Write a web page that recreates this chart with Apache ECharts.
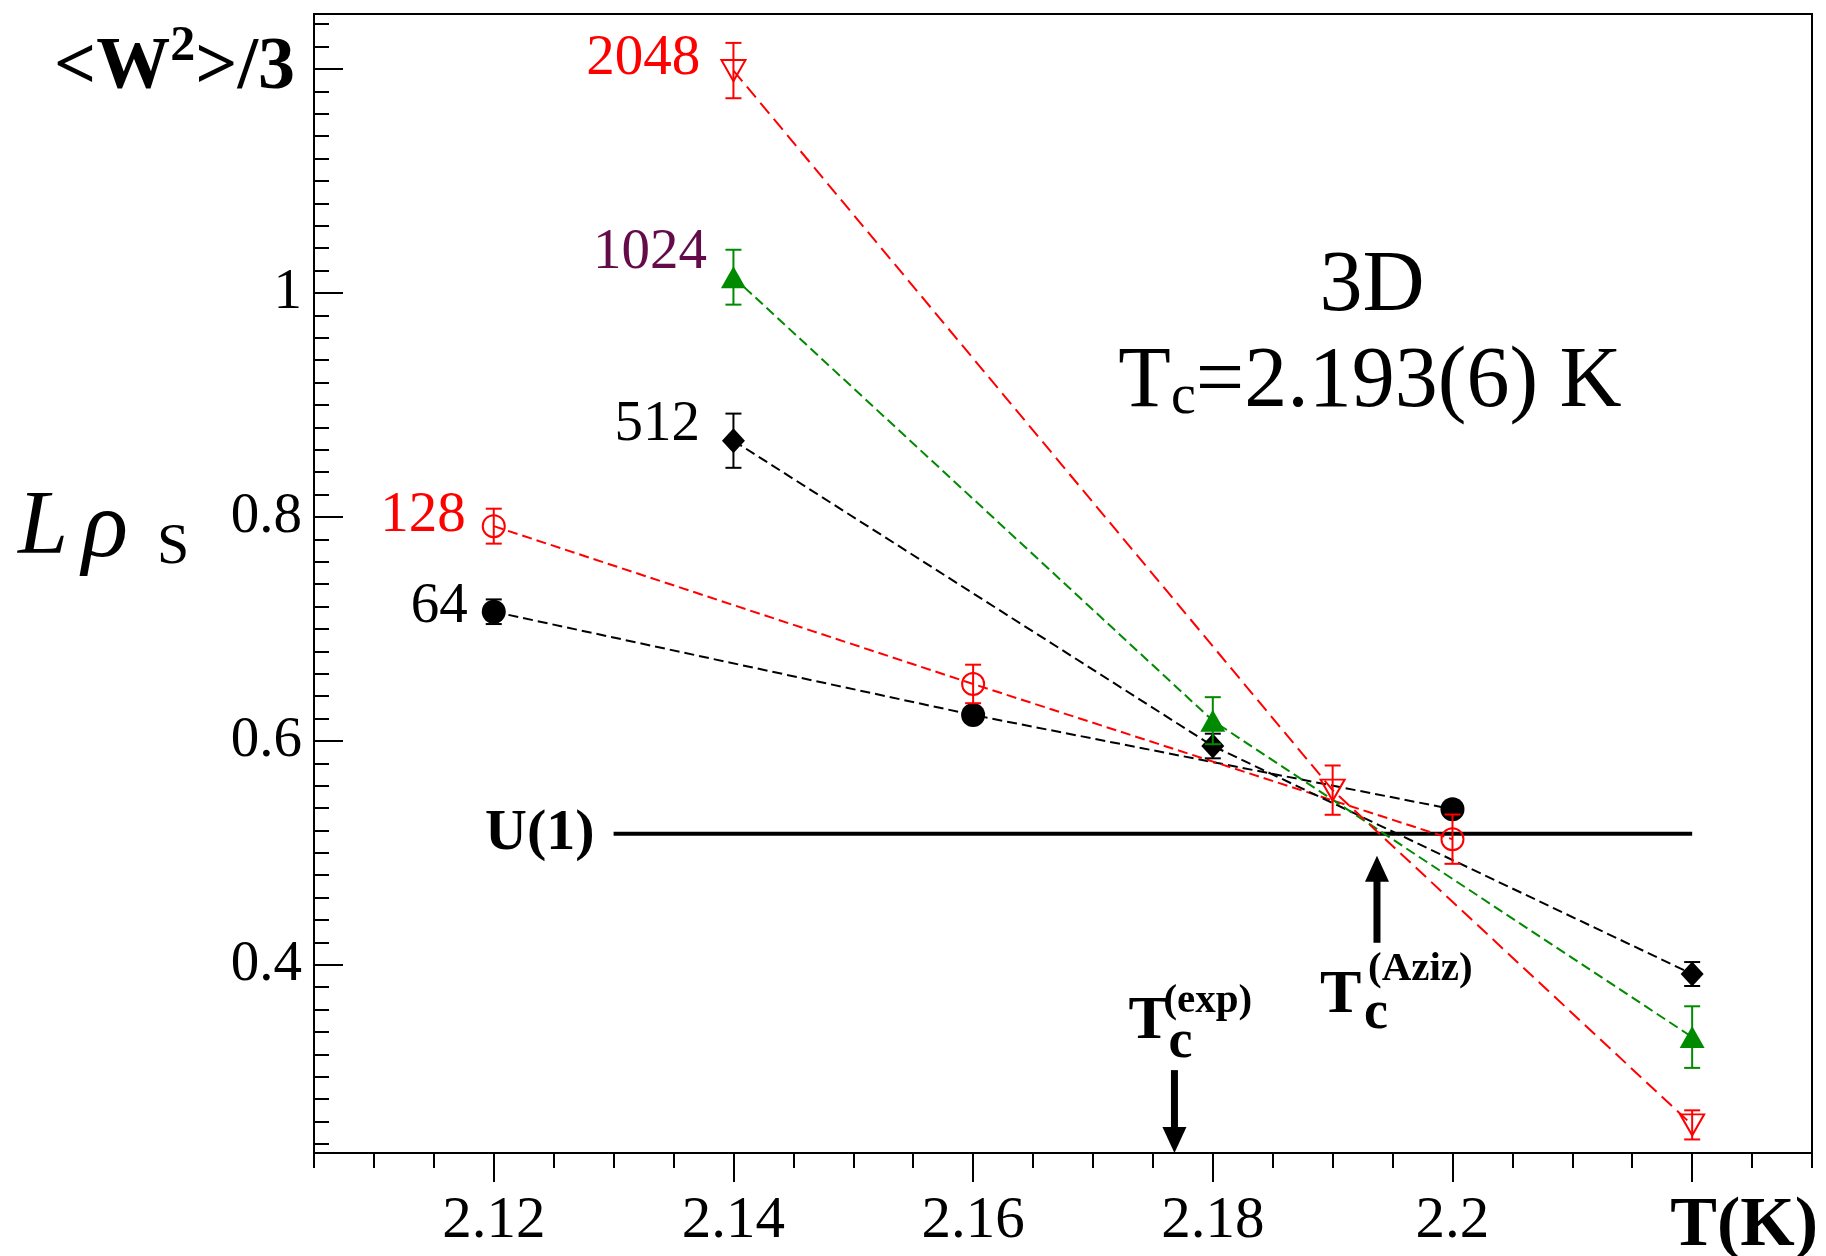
<!DOCTYPE html>
<html><head><meta charset="utf-8">
<script src="https://cdn.jsdelivr.net/npm/echarts@6/dist/echarts.min.js"></script>
<style>html,body{margin:0;padding:0;background:#fff;}#c{width:1826px;height:1256px;}</style>
</head><body><div id="c"></div>
<script>
// ---- data ----
const T64 = [2.12, 2.16, 2.20];
const V64 = [0.7153, 0.6231, 0.5390];
const E64 = [0.011, 0.006, 0.006];
const T128 = [2.12, 2.16, 2.20];
const V128 = [0.7917, 0.6508, 0.5122];
const E128 = [0.0156, 0.0172, 0.022];
const T512 = [2.14, 2.18, 2.22];
const V512 = [0.868, 0.5954, 0.3918];
const E512 = [0.0242, 0.011, 0.0107];
const T1024 = [2.14, 2.18, 2.22];
const V1024 = [1.014, 0.618, 0.3355];
const E1024 = [0.0245, 0.021, 0.0275];
const T2048 = [2.14, 2.19, 2.22];
const V2048 = [1.1985, 0.556, 0.2571];
const E2048 = [0.0247, 0.022, 0.013];

const U1_VALUE = 0.517;
const U1_RANGE = [2.13, 2.22];
const TC_EXP = [2.1768, 0.306];   // T, arrow tail value (tip on axis)
const TC_AZIZ = [2.1937, 0.4197, 0.4974]; // T, tail, tip

const X_MIN = 2.105, X_MAX = 2.23, Y_MIN = 0.232, Y_MAX = 1.249;
const X_MAJOR = [2.12, 2.14, 2.16, 2.18, 2.2, 2.22];
const X_LABELS = ['2.12', '2.14', '2.16', '2.18', '2.2', '{tk|T(K)}'];
const Y_MAJOR = [0.4, 0.6, 0.8, 1.0, 1.2];
const Y_LABELS = ['0.4', '0.6', '0.8', '1', '{w|<W}{sup|2}{w|>/3}{p|}'];
const X_MINOR = Array.from({length: 26}, (_, i) => +(2.105 + 0.005 * i).toFixed(3));
const Y_MINOR = Array.from({length: 51}, (_, i) => +(0.24 + 0.02 * i).toFixed(2));

const SERIF = '"Liberation Serif", "Times New Roman", serif';
const RED = '#ff0000', GREEN = '#008a00', BLACK = '#000000', PURPLE = '#640c4a';

const pairs = (T, V) => T.map((t, i) => [t, V[i]]);
const errs = (T, V, E) => T.map((t, i) => [t, V[i] - E[i], V[i] + E[i]]);

function lineSeries(name, T, V, color, dash, symbol, size, filled, lab) {
  return {
    type: 'line', name, xAxisIndex: 0, yAxisIndex: 0, z: 3,
    data: pairs(T, V),
    symbol: symbol, symbolSize: size, symbolRotate: lab.rotate || 0, showSymbol: true,
    lineStyle: {color: color, width: 2, type: dash},
    itemStyle: filled ? {color: color, borderWidth: 0} : {color: 'rgba(255,255,255,0)', borderColor: color, borderWidth: 2},
    label: {
      show: true, position: 'left', distance: lab.d, offset: [0, lab.dy],
      formatter: p => p.dataIndex === 0 ? name : '',
      fontFamily: SERIF, fontSize: 57, color: lab.color
    },
    emphasis: {disabled: true}, animation: false
  };
}

function errSeries(T, V, E, color) {
  return {
    type: 'custom', xAxisIndex: 0, yAxisIndex: 0, z: 4,
    data: errs(T, V, E), encode: {x: 0, y: [1, 2]},
    renderItem: function (params, api) {
      const x = api.value(0);
      const lo = api.coord([x, api.value(1)]);
      const hi = api.coord([x, api.value(2)]);
      const cw = 8;
      const st = {stroke: color, lineWidth: 2};
      return {type: 'group', children: [
        {type: 'line', shape: {x1: lo[0], y1: lo[1], x2: hi[0], y2: hi[1]}, style: st},
        {type: 'line', shape: {x1: lo[0] - cw, y1: lo[1], x2: lo[0] + cw, y2: lo[1]}, style: st},
        {type: 'line', shape: {x1: hi[0] - cw, y1: hi[1], x2: hi[0] + cw, y2: hi[1]}, style: st}
      ]};
    },
    animation: false
  };
}

function arrowGroup(tail, tip) {
  const dir = tip[1] > tail[1] ? 1 : -1;
  const hl = 26, hw = 12;
  const base = tip[1] - dir * hl;
  return [
    {type: 'line', shape: {x1: tail[0], y1: tail[1], x2: tip[0], y2: base + dir * 2}, style: {stroke: '#000', lineWidth: 7}},
    {type: 'polygon', shape: {points: [[tip[0], tip[1]], [tip[0] - hw, base], [tip[0] + hw, base]]}, style: {fill: '#000'}}
  ];
}
function txt(text, x, y, font, align) {
  return {type: 'text', x: x, y: y, style: {text: text, font: font, fill: '#000', align: align || 'left', verticalAlign: 'middle'}};
}
const FT = 'bold 62px ' + SERIF, FC = 'bold 54px ' + SERIF, FS = 'bold 41px ' + SERIF;

const option = {
  backgroundColor: '#fff',
  animation: false,
  grid: [
    {left: 314, top: 14, width: 1498, height: 1139, show: true, borderColor: '#000', borderWidth: 2, backgroundColor: 'transparent', containLabel: false, outerBoundsMode: 'none'},
    {left: 314, top: 14, width: 1498, height: 1139, show: false, containLabel: false, outerBoundsMode: 'none'}
  ],
  xAxis: [
    {gridIndex: 0, type: 'value', min: X_MIN, max: X_MAX, position: 'bottom',
      axisLine: {show: true, onZero: false, lineStyle: {color: '#000', width: 2}},
      axisTick: {show: true, customValues: X_MAJOR, length: 29, inside: false, lineStyle: {color: '#000', width: 2}},
      axisLabel: {show: true, customValues: X_MAJOR, margin: 39, fontFamily: SERIF, fontSize: 59, color: '#000',
        formatter: v => { const i = X_MAJOR.findIndex(m => Math.abs(m - v) < 1e-9); return i >= 0 ? X_LABELS[i] : ''; },
        rich: {tk: {fontFamily: SERIF, fontWeight: 'bold', fontSize: 70, color: '#000', padding: [0, 0, 0, 104]}}},
      splitLine: {show: false}},
    {gridIndex: 1, type: 'value', min: X_MIN, max: X_MAX, position: 'bottom',
      axisLine: {show: false, onZero: false},
      axisTick: {show: true, customValues: X_MINOR, length: 15, inside: false, lineStyle: {color: '#000', width: 2}},
      axisLabel: {show: false}, splitLine: {show: false}}
  ],
  yAxis: [
    {gridIndex: 0, type: 'value', min: Y_MIN, max: Y_MAX, position: 'left',
      axisLine: {show: true, onZero: false, lineStyle: {color: '#000', width: 2}},
      axisTick: {show: true, customValues: Y_MAJOR, length: 29, inside: true, lineStyle: {color: '#000', width: 2}},
      axisLabel: {show: true, customValues: Y_MAJOR, margin: 12, fontFamily: SERIF, fontSize: 57, color: '#000',
        formatter: v => { const i = Y_MAJOR.findIndex(m => Math.abs(m - v) < 1e-9); return i >= 0 ? Y_LABELS[i] : ''; },
        rich: {
          w: {fontFamily: SERIF, fontWeight: 'bold', fontSize: 74, lineHeight: 94, color: '#000'},
          sup: {fontFamily: SERIF, fontWeight: 'bold', fontSize: 50, lineHeight: 36, verticalAlign: 'top', color: '#000'},
          p: {width: 7}
        }},
      splitLine: {show: false}},
    {gridIndex: 1, type: 'value', min: Y_MIN, max: Y_MAX, position: 'left',
      axisLine: {show: false, onZero: false},
      axisTick: {show: true, customValues: Y_MINOR, length: 15, inside: true, lineStyle: {color: '#000', width: 2}},
      axisLabel: {show: false}, splitLine: {show: false}}
  ],
  graphic: [
    {type: 'text', x: 18, y: 529, style: {text: 'L', font: 'italic 90px ' + SERIF, fill: '#000', align: 'left', verticalAlign: 'middle'}},
    {type: 'text', x: 82, y: 531, style: {text: 'ρ', font: 'italic 96px ' + SERIF, fill: '#000', align: 'left', verticalAlign: 'middle'}},
    {type: 'text', x: 157, y: 548, style: {text: 'S', font: '58px ' + SERIF, fill: '#000', align: 'left', verticalAlign: 'middle'}},
    {type: 'text', x: 1372, y: 287, style: {text: '3D', font: '86px ' + SERIF, fill: '#000', align: 'center', verticalAlign: 'middle'}},
    {type: 'text', x: 1370, y: 383, style: {text: '{n|T}{s|c}{n|=2.193(6) K}', align: 'center', verticalAlign: 'middle',
      rich: {n: {fontFamily: SERIF, fontSize: 86, lineHeight: 86, fill: '#000'},
             s: {fontFamily: SERIF, fontSize: 56, lineHeight: 46, verticalAlign: 'bottom', fill: '#000'}}}}
  ],
  series: [
    // U(1) universal value
    {type: 'line', xAxisIndex: 0, yAxisIndex: 0, z: 2, data: [[U1_RANGE[0], U1_VALUE], [U1_RANGE[1], U1_VALUE]],
      symbol: 'none', lineStyle: {color: '#000', width: 4, type: 'solid'}, emphasis: {disabled: true}, animation: false},
    lineSeries('64', T64, V64, BLACK, [10, 5], 'circle', 24, true, {d: 14, dy: -5, color: BLACK}),
    lineSeries('128', T128, V128, RED, [10, 5], 'circle', 22, false, {d: 16, dy: -10, color: RED}),
    lineSeries('512', T512, V512, BLACK, [10, 5], 'diamond', [23, 25], true, {d: 22, dy: -16, color: BLACK}),
    lineSeries('1024', T1024, V1024, GREEN, [10, 5], 'triangle', [25, 22], true, {d: 14, dy: -24, color: PURPLE}),
    lineSeries('2048', T2048, V2048, RED, [14, 7], 'triangle', [24, 21], false, {d: 20, dy: -12, color: RED, rotate: 180}),
    errSeries(T64, V64, E64, BLACK),
    errSeries(T128, V128, E128, RED),
    errSeries(T512, V512, E512, BLACK),
    errSeries(T1024, V1024, E1024, GREEN),
    errSeries(T2048, V2048, E2048, RED),
    // U(1) label
    {type: 'custom', xAxisIndex: 0, yAxisIndex: 0, z: 5, data: [[U1_RANGE[0], U1_VALUE]],
      renderItem: (params, api) => {
        const p = api.coord([api.value(0), api.value(1)]);
        return txt('U(1)', p[0] - 19, p[1], 'bold 58px ' + SERIF, 'right');
      }, animation: false},
    // Tc(exp) arrow + label
    {type: 'custom', xAxisIndex: 0, yAxisIndex: 0, z: 5, data: [[TC_EXP[0], TC_EXP[1], Y_MIN]],
      renderItem: (params, api) => {
        const x = api.value(0);
        const tail = api.coord([x, api.value(1)]), tip = api.coord([x, api.value(2)]);
        return {type: 'group', children: arrowGroup(tail, tip).concat([
          txt('T', tail[0] - 46, tail[1] - 48, FT),
          txt('c', tail[0] - 6, tail[1] - 27, FC),
          txt('(exp)', tail[0] - 11, tail[1] - 69, FS)
        ])};
      }, animation: false},
    // Tc(Aziz) arrow + label
    {type: 'custom', xAxisIndex: 0, yAxisIndex: 0, z: 5, data: [TC_AZIZ],
      renderItem: (params, api) => {
        const x = api.value(0);
        const tail = api.coord([x, api.value(1)]), tip = api.coord([x, api.value(2)]);
        return {type: 'group', children: arrowGroup(tail, tip).concat([
          txt('T', tail[0] - 57, tail[1] + 53, FT),
          txt('c', tail[0] - 13, tail[1] + 71, FC),
          txt('(Aziz)', tail[0] - 9, tail[1] + 27, FS)
        ])};
      }, animation: false}
  ]
};

const chart = echarts.init(document.getElementById('c'), null, {renderer: 'canvas'});
chart.setOption(option);
</script>
</body></html>
